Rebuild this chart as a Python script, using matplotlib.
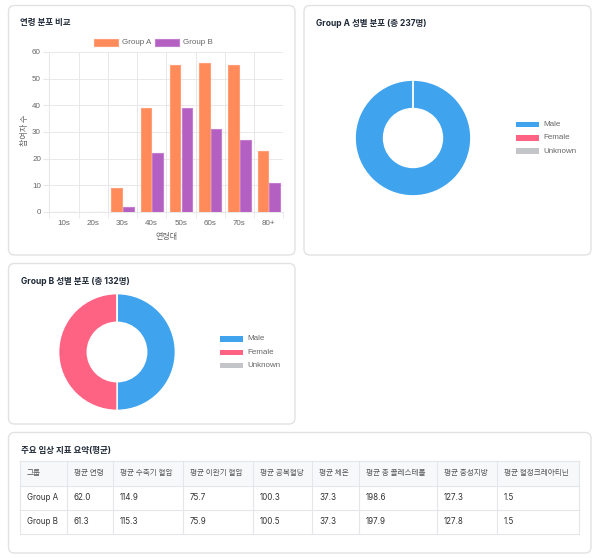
import matplotlib
matplotlib.use("Agg")
import matplotlib.pyplot as plt
from matplotlib.patches import FancyBboxPatch, Rectangle
import numpy as np

# ---------------- data ----------------
age_groups = ["10s", "20s", "30s", "40s", "50s", "60s", "70s", "80+"]
group_a_counts = [0, 0, 9, 39, 55, 56, 55, 23]
group_b_counts = [0, 0, 2, 22, 39, 31, 27, 11]
series_names = ["Group A", "Group B"]

gender_labels = ["Male", "Female", "Unknown"]
gender_a = [237, 0, 0]
gender_b = [66, 66, 0]

table_columns = ["그룹", "평균 연령", "평균 수축기 혈압", "평균 이완기 혈압", "평균 공복혈당",
                 "평균 체온", "평균 총 콜레스테롤", "평균 중성지방", "평균 혈청크레아티닌"]
table_rows = [
    ["Group A", "62.0", "114.9", "75.7", "100.3", "37.3", "198.6", "127.3", "1.5"],
    ["Group B", "61.3", "115.3", "75.9", "100.5", "37.3", "197.9", "127.8", "1.5"],
]

# ---------------- style ----------------
W, H = 602, 558
C_A = "#FF8A5A"
C_A_EDGE = "#FF9E78"
C_B = "#B45FC2"
C_B_EDGE = "#C47ED0"
C_MALE = "#3FA3EE"
C_FEMALE = "#FF6384"
C_UNK = "#C4C5C8"
GRID = "#E8E8E8"
TICK = "#666666"
TITLE_C = "#1F2937"
SANS = ["Liberation Sans", "Noto Sans CJK KR"]
TITLE_F = ["Inter", "Noto Sans CJK KR"]
KR = ["Noto Sans CJK KR", "DejaVu Sans"]

fig = plt.figure(figsize=(W / 100, H / 100), dpi=100)
fig.patch.set_facecolor("white")

bg = fig.add_axes([0, 0, 1, 1], zorder=0)
bg.set_xlim(0, W)
bg.set_ylim(H, 0)
bg.axis("off")


def px_axes(x0, y0, x1, y1, **kw):
    return fig.add_axes([x0 / W, 1 - y1 / H, (x1 - x0) / W, (y1 - y0) / H], **kw)


def card(x0, y0, x1, y1):
    bg.add_patch(FancyBboxPatch((x0, y0), x1 - x0, y1 - y0,
                                boxstyle="round,pad=0,rounding_size=6",
                                facecolor="white", edgecolor="#E2E2E2", linewidth=1.0))


card(8.5, 5.5, 295, 255)
card(304, 5.5, 591, 255)
card(8.5, 263.5, 295, 424)
card(8.5, 432.5, 591, 553)

# ---------------- titles ----------------
TS = 6.1
bg.text(20, 22.5, "연령 분포 비교", fontsize=TS, fontweight="bold", color=TITLE_C,
        family=TITLE_F, va="center", ha="left")
bg.text(316, 23, "Group A 성별 분포 (총 237명)", fontsize=TS, fontweight="bold", color=TITLE_C,
        family=TITLE_F, va="center", ha="left")
bg.text(21, 282, "Group B 성별 분포 (총 132명)", fontsize=TS, fontweight="bold", color=TITLE_C,
        family=TITLE_F, va="center", ha="left")
bg.text(21, 451, "주요 임상 지표 요약(평균)", fontsize=TS, fontweight="bold", color=TITLE_C,
        family=TITLE_F, va="center", ha="left")

# ---------------- bar chart ----------------
LS = 5.8
ax = px_axes(49.3, 52, 283.3, 212, zorder=1)
x = np.arange(len(age_groups))
bw = 0.36
ax.bar(x - 0.2, group_a_counts, bw, color=C_A, edgecolor=C_A_EDGE, linewidth=0.8, zorder=3)
ax.bar(x + 0.2, group_b_counts, bw, color=C_B, edgecolor=C_B_EDGE, linewidth=0.8, zorder=3)
ax.set_xlim(-0.5, len(age_groups) - 0.5)
ax.set_ylim(0, 60)
ax.set_yticks(range(0, 61, 10))
ax.set_xticks(x)
ax.set_xticklabels(age_groups)
ax.set_xticks(np.arange(-0.5, len(age_groups)), minor=True)
for v in np.arange(-0.5, len(age_groups)):
    ax.axvline(v, color=GRID, linewidth=0.7, zorder=1)
for v in range(10, 61, 10):
    ax.axhline(v, color=GRID, linewidth=0.7, zorder=1)
for s in ax.spines.values():
    s.set_visible(False)
ax.spines["left"].set_visible(True)
ax.spines["bottom"].set_visible(True)
ax.spines["left"].set_color(GRID)
ax.spines["bottom"].set_color(GRID)
ax.tick_params(axis="y", length=4, color=GRID, labelsize=LS, labelcolor=TICK, pad=2)
ax.tick_params(axis="x", which="major", length=0, labelsize=LS, labelcolor=TICK, pad=6)
ax.tick_params(axis="x", which="minor", length=4, color=GRID)
for t in ax.get_xticklabels() + ax.get_yticklabels():
    t.set_family(SANS)
ax.patch.set_alpha(0)
bg.text(166.3, 236, "연령대", fontsize=LS, color=TICK, family=KR, va="center", ha="center")
bg.text(25, 130, "참여자 수", fontsize=LS, color=TICK, family=KR, va="center", ha="center",
        rotation=90)

# bar legend
for name, col, edge, bx, tx in [(series_names[0], C_A, C_A_EDGE, 94, 122),
                                 (series_names[1], C_B, C_B_EDGE, 155, 183)]:
    bg.add_patch(Rectangle((bx, 39.2), 24, 6.8, facecolor=col, edgecolor=edge, linewidth=0.8))
    bg.text(tx, 42.6, name, fontsize=LS, color=TICK, family=SANS, va="center", ha="left")


# ---------------- donuts ----------------
def donut(cx, cy, r, values, leg_x, leg_y0):
    a = px_axes(cx - r, cy - r, cx + r, cy + r, zorder=1)
    a.pie(values, colors=[C_MALE, C_FEMALE, C_UNK], startangle=90, counterclock=False,
          radius=1.0, wedgeprops=dict(width=0.49, edgecolor="white", linewidth=1.0))
    a.set_xlim(-1.02, 1.02)
    a.set_ylim(-1.02, 1.02)
    a.set_aspect("auto")
    a.axis("off")
    for i, (lab, col) in enumerate(zip(gender_labels, [C_MALE, C_FEMALE, C_UNK])):
        yy = leg_y0 + i * 13.3
        bg.add_patch(Rectangle((leg_x, yy - 2.8), 23, 5.6, facecolor=col, edgecolor="none"))
        bg.text(leg_x + 27, yy, lab, fontsize=LS, color=TICK, family=SANS, va="center", ha="left")


donut(413, 138, 59, gender_a, 516, 124.5)
donut(117, 352, 59.5, gender_b, 220, 339)

# ---------------- table ----------------
col_edges = [20, 67, 113, 183, 253, 312, 359, 437, 497, 579]
row_edges = [461, 486, 509.5, 534]
BORDER = "#E4E6EA"
bg.add_patch(Rectangle((col_edges[0], row_edges[0]), col_edges[-1] - col_edges[0],
                       row_edges[1] - row_edges[0], facecolor="#F7F8FA", edgecolor="none"))
for yv in row_edges:
    bg.plot([col_edges[0], col_edges[-1]], [yv, yv], color=BORDER, linewidth=0.8)
for xv in col_edges:
    bg.plot([xv, xv], [row_edges[0], row_edges[-1]], color=BORDER, linewidth=0.8)
for j, head in enumerate(table_columns):
    bg.text(col_edges[j] + 7, (row_edges[0] + row_edges[1]) / 2, head, fontsize=5.5,
            color="#555555", family=KR, va="center", ha="left")
for i, row in enumerate(table_rows):
    yc = (row_edges[i + 1] + row_edges[i + 2]) / 2
    for j, val in enumerate(row):
        bg.text(col_edges[j] + 7, yc, val, fontsize=5.8, color="#333333",
                family=["Inter", "Noto Sans CJK KR"], va="center", ha="left")

fig.savefig("out.png", dpi=100, facecolor="white")
